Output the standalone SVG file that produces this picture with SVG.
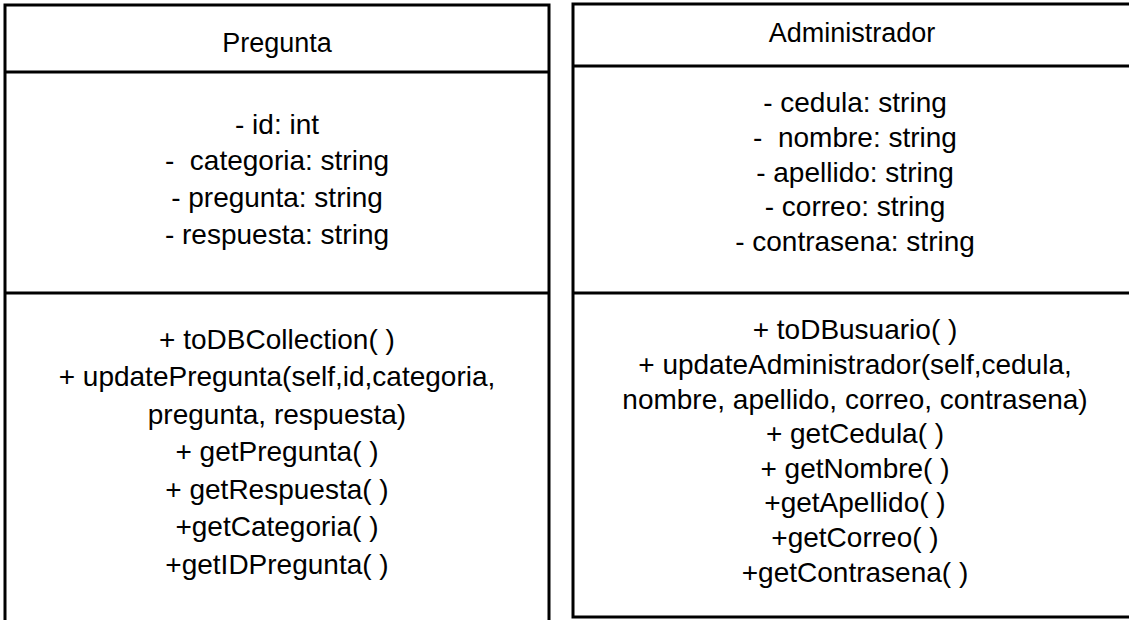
<svg xmlns="http://www.w3.org/2000/svg" width="1129" height="620" viewBox="0 0 1129 620">
<style>
.box{fill:#fff;stroke:#000;stroke-width:3}
.ln{stroke:#000;stroke-width:3}
text{font-family:"Liberation Sans",Arial,sans-serif;font-size:28px;fill:#000;text-anchor:middle}
text.h{font-size:27px}
</style>
<rect width="1129" height="620" fill="#fff"/>
<g id="Pregunta">
<rect class="box" x="5" y="5" width="544" height="630"/>
<line class="ln" x1="5" y1="72" x2="549" y2="72"/>
<line class="ln" x1="5" y1="293" x2="549" y2="293"/>
<text class="h" x="277" y="52">Pregunta</text>
<text x="277" y="134">- id: int</text>
<text x="277" y="170" xml:space="preserve">-  categoria: string</text>
<text x="277" y="207">- pregunta: string</text>
<text x="277" y="244">- respuesta: string</text>
<text x="277" y="349">+ toDBCollection( )</text>
<text x="277" y="386">+ updatePregunta(self,id,categoria,</text>
<text x="277" y="424">pregunta, respuesta)</text>
<text x="277" y="461">+ getPregunta( )</text>
<text x="277" y="499">+ getRespuesta( )</text>
<text x="277" y="536">+getCategoria( )</text>
<text x="277" y="574">+getIDPregunta( )</text>
</g>
<g id="Administrador">
<rect class="box" x="573" y="4" width="580" height="613"/>
<line class="ln" x1="573" y1="66" x2="1129" y2="66"/>
<line class="ln" x1="573" y1="293" x2="1129" y2="293"/>
<text class="h" x="852" y="42">Administrador</text>
<text x="855" y="112">- cedula: string</text>
<text x="855" y="147" xml:space="preserve">-  nombre: string</text>
<text x="855" y="182">- apellido: string</text>
<text x="855" y="216">- correo: string</text>
<text x="855" y="251">- contrasena: string</text>
<text x="855" y="339">+ toDBusuario( )</text>
<text x="855" y="374">+ updateAdministrador(self,cedula,</text>
<text x="855" y="409">nombre, apellido, correo, contrasena)</text>
<text x="855" y="443">+ getCedula( )</text>
<text x="855" y="478">+ getNombre( )</text>
<text x="855" y="512">+getApellido( )</text>
<text x="855" y="547">+getCorreo( )</text>
<text x="855" y="582">+getContrasena( )</text>
</g>
<g id="connectors"/>
</svg>
